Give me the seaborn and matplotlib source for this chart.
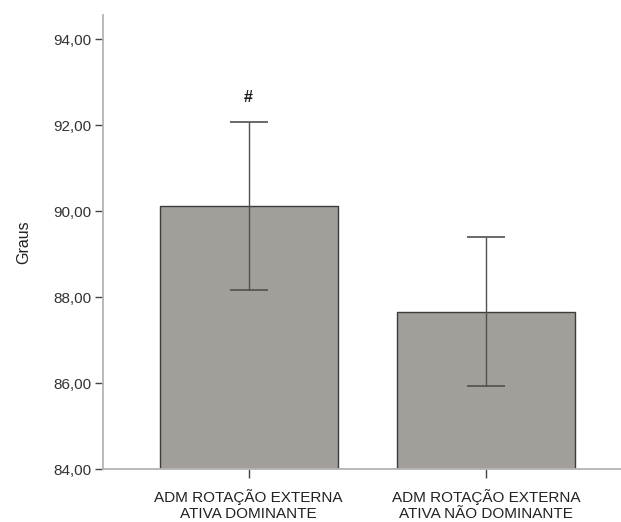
import matplotlib
matplotlib.use("Agg")
import matplotlib.pyplot as plt
import pandas as pd
import seaborn as sns
from matplotlib.ticker import FuncFormatter

categories = [
    "ADM ROTAÇÃO EXTERNA\nATIVA DOMINANTE",
    "ADM ROTAÇÃO EXTERNA\nATIVA NÃO DOMINANTE",
]
means = [90.12, 87.67]
errors = [1.96, 1.74]
marks = ["#", ""]
y_ticks = [84, 86, 88, 90, 92, 94]

sns.set_theme(style="white")
plt.rcParams["font.family"] = ["Liberation Sans", "DejaVu Sans"]

frame = pd.DataFrame({"grupo": categories, "graus": means})

fig = plt.figure(figsize=(6.21, 5.22), dpi=100)
ax = fig.add_axes([0.1654, 0.101, 0.8346, 0.8703])

sns.barplot(
    data=frame,
    x="grupo",
    y="graus",
    color="#a29f9a",
    saturation=1,
    width=0.75,
    edgecolor="#3c3c3c",
    linewidth=1.0,
    errorbar=None,
    ax=ax,
)
ax.errorbar(
    x=range(len(means)),
    y=means,
    yerr=errors,
    fmt="none",
    ecolor="#505050",
    elinewidth=1.0,
    capsize=19 * 0.72,
    capthick=1.2,
    zorder=5,
)
for i, (m, e, t) in enumerate(zip(means, errors, marks)):
    if t:
        ax.text(i, m + e + 0.4, t, ha="center", va="bottom",
                fontsize=11.5, color="#1a1a1a", fontweight="bold")

ax.set_ylim(84, 94.57)
ax.set_xlim(-0.614, 1.567)
ax.set_yticks(y_ticks)
ax.yaxis.set_major_formatter(FuncFormatter(lambda v, _: f"{v:.2f}".replace(".", ",")))
ax.set_xlabel("")
ax.set_ylabel("Graus", fontsize=11.5, color="#222222", labelpad=16)

for side in ["top", "right"]:
    ax.spines[side].set_visible(False)
for side in ["left", "bottom"]:
    ax.spines[side].set_color("#b4b4b4")
    ax.spines[side].set_linewidth(1.3)

ax.tick_params(axis="y", which="major", left=True, length=6, width=1.0,
               color="#444444", labelsize=11, labelcolor="#333333", pad=2)
ax.tick_params(axis="x", which="major", bottom=True, length=6.5, width=1.0,
               color="#444444", labelsize=11, labelcolor="#222222", pad=7.5)
for lbl in ax.get_xticklabels():
    lbl.set_linespacing(1.25)

fig.savefig("out.png", dpi=100)
